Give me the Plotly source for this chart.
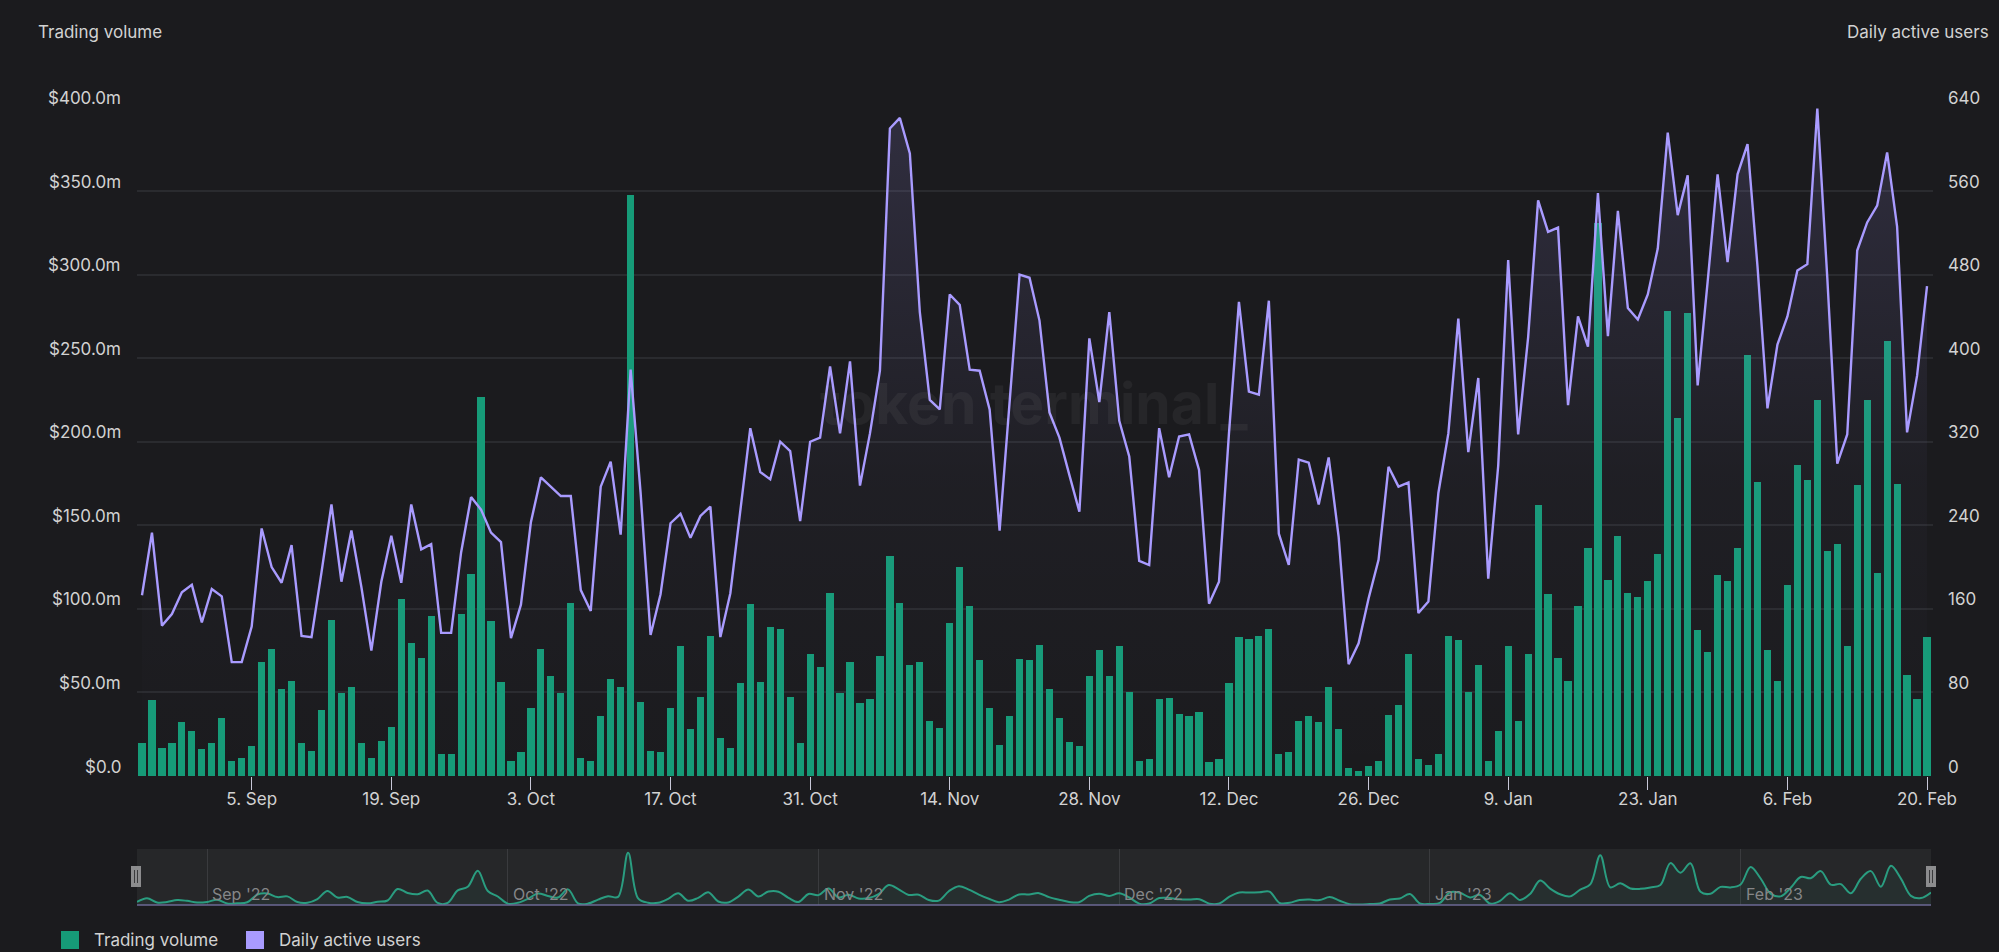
import pandas as pd
import plotly.graph_objects as go

W, H = 1999, 952
dates = pd.date_range("2022-08-25", "2023-02-20", freq="D")

trading_volume_m = [
    20.3,45.6,17,19.8,32.7,27.5,16.5,20.3,35.2,9.3,
    11.3,18.1,68.7,76.4,52.5,57.4,19.8,15.4,39.6,93.4,
    49.7,53.3,19.8,11.3,21.4,29.9,106.3,79.9,71.1,96.1,
    13.5,13.5,97,120.9,226.9,92.8,56.6,9.3,14.6,41.2,
    76.4,60.2,49.7,103.8,11.3,9.3,36,58.5,53.8,347.8,
    44.5,15.4,14.6,41.2,78,28.3,47.8,84.1,23.1,17,
    55.8,103,56.6,89.3,88.5,47.8,19.8,73.1,65.4,109.6,
    49.7,68.7,43.7,46.1,72,132.1,103.8,67,68.7,33.5,
    29.1,91.7,125.3,102.2,69.5,41.2,19,36,70.3,69.5,
    78.8,52.2,35.2,20.6,18.1,60.2,75.5,60.2,78,50.5,
    9.3,10.2,46.1,47,37.6,36,38.5,8.5,10.2,55.8,
    83.2,82.4,84.1,88.5,13.5,14.6,33.2,36,32.7,53.3,
    28.3,5.2,3.3,6,9.3,36.8,42.9,73.1,10.2,6.9,
    13.5,84.1,81.6,50.5,67,9.3,27.5,78,33.5,73.6,
    162.3,109.1,71.1,57.4,102.2,136.5,331.3,117.6,144.2,109.9,
    107.4,116.7,133.2,278.3,214.5,277.4,87.6,74.7,120.3,116.7,
    136.5,252.4,176.1,75.5,57.4,114.3,186.2,177.7,225,134.9,
    139,78,174.4,225,122,260.4,175.3,60.7,46.1,83.5,
]
daily_active_users = [
    173,233,144,155,176,183,147,179,172,109,
    109,143,237,200,185,221,134,133,195,260,
    186,235,181,120,186,230,185,260,217,222,
    137,137,214,267,255,233,224,132,164,243,
    286,277,268,268,178,158,277,301,231,389,
    271,135,174,242,251,228,249,258,133,175,
    255,333,291,284,320,311,244,320,324,392,
    328,397,278,328,388,620,630,596,444,360,
    351,461,451,389,388,351,235,360,480,477,
    436,348,324,288,253,419,358,444,340,306,
    206,202,333,286,325,327,293,165,186,328,
    454,368,365,455,232,202,303,300,260,305,
    229,107,127,170,207,296,277,281,156,167,
    271,328,438,310,381,189,297,494,327,420,
    551,521,525,355,440,411,558,421,541,448,
    437,461,505,616,537,575,374,473,576,492,
    576,605,488,352,413,440,484,490,639,477,
    299,327,503,530,546,597,526,329,383,469,
]
x_tick_dates = ["2022-09-05","2022-09-19","2022-10-03","2022-10-17","2022-10-31","2022-11-14",
                "2022-11-28","2022-12-12","2022-12-26","2023-01-09","2023-01-23","2023-02-06","2023-02-20"]
x_tick_labels = ["5. Sep","19. Sep","3. Oct","17. Oct","31. Oct","14. Nov","28. Nov",
                 "12. Dec","26. Dec","9. Jan","23. Jan","6. Feb","20. Feb"]
left_ticks = [0,50,100,150,200,250,300,350,400]
left_labels = ["$0.0","$50.0m","$100.0m","$150.0m","$200.0m","$250.0m","$300.0m","$350.0m","$400.0m"]
right_ticks = [0,80,160,240,320,400,480,560,640]
month_dates = ["2022-09-01","2022-10-01","2022-11-01","2022-12-01","2023-01-01","2023-02-01"]
month_labels = ["Sep '22","Oct '22","Nov '22","Dec '22","Jan '23","Feb '23"]

BG = "#1b1b1e"; GREEN = "#169b78"; PURPLE = "#a99bff"; TXT = "#d2d2d2"; GRID = "#2a2b2f"
FONT = "Inter"
px = lambda v: v / W
py = lambda v: 1 - v / H

fig = go.Figure()
fig.add_trace(go.Bar(x=dates, y=trading_volume_m, marker=dict(color=GREEN, line_width=0),
                     width=7.2 * 86400000 / 9.97, xaxis="x", yaxis="y", showlegend=False))
fig.add_trace(go.Scatter(x=dates, y=daily_active_users, mode="lines", line=dict(color=PURPLE, width=2.4),
                         fill="tozeroy",
                         fillgradient=dict(type="vertical",
                                           colorscale=[[0, "rgba(169,155,255,0.0)"],
                                                       [0.45, "rgba(169,155,255,0.03)"],
                                                       [1, "rgba(169,155,255,0.15)"]]),
                         xaxis="x", yaxis="y2", showlegend=False))
fig.add_trace(go.Scatter(x=dates, y=trading_volume_m, mode="lines",
                         line=dict(color="#2a9d80", width=2, shape="spline", smoothing=1.0),
                         fill="tozeroy", fillcolor="rgba(42,157,128,0.07)",
                         xaxis="x2", yaxis="y3", showlegend=False))

ann = []
shapes = []
for v, t in zip(left_ticks, left_labels):
    ann.append(dict(text=t, x=px(122.5), xref="paper", y=v, yref="y", xanchor="right", yanchor="middle",
                    yshift=9.5, showarrow=False, font=dict(size=17, color=TXT, family=FONT)))
for v in right_ticks:
    ann.append(dict(text=str(v), x=px(1946), xref="paper", y=v, yref="y2", xanchor="left", yanchor="middle",
                    yshift=9.5, showarrow=False, font=dict(size=17, color=TXT, family=FONT)))
for d, t in zip(month_dates, month_labels):
    ann.append(dict(text=t, x=d, xref="x2", xshift=3, y=py(894), yref="paper", xanchor="left", yanchor="middle",
                    showarrow=False, font=dict(size=16, color="#858688", family=FONT)))

def label(text, x, y, anchor="left", size=17, color=TXT, **kw):
    ann.append(dict(text=text, x=px(x), y=py(y), xref="paper", yref="paper", xanchor=anchor, yanchor="middle",
                    showarrow=False, font=dict(size=size, color=color, family=FONT), **kw))

label("Trading volume", 36, 32)
label("Daily active users", 1991, 32, anchor="right")
label("Trading volume", 92, 940)
label("Daily active users", 277, 940)
label("<b>token terminal_</b>", 1034, 403, anchor="center", size=57, color="rgba(255,255,255,0.05)")

def rect(x0, y0, x1, y1, fill, layer="above", line=None):
    shapes.append(dict(type="rect", xref="paper", yref="paper", x0=px(x0), x1=px(x1), y0=py(y0), y1=py(y1),
                       fillcolor=fill, line=dict(width=1 if line else 0, color=line or fill), layer=layer))

rect(137, 849, 1931, 905, "#262729", layer="below")
rect(61, 931, 79, 949, GREEN)
rect(246, 931, 264, 949, PURPLE)
shapes.append(dict(type="line", xref="paper", yref="paper", x0=px(137), x1=px(1931), y0=py(905), y1=py(905),
                   line=dict(color="#6d6a96", width=1.5)))
for hx in (131, 1926):
    rect(hx, 866, hx + 10, 887, "#8c8c8e")
    for o in (3.5, 6.5):
        shapes.append(dict(type="line", xref="paper", yref="paper", x0=px(hx + o), x1=px(hx + o),
                           y0=py(870), y1=py(883), line=dict(color="#3a3a3c", width=1)))

fig.update_layout(
    width=W, height=H, paper_bgcolor=BG, plot_bgcolor="rgba(0,0,0,0)",
    margin=dict(l=0, r=0, t=0, b=0, pad=0, autoexpand=False), showlegend=False, bargap=0,
    font=dict(family=FONT, color=TXT, size=17),
    annotations=ann, shapes=shapes,
    xaxis=dict(domain=[px(137), px(1933)], anchor="y", type="date",
               range=["2022-08-24 12:00", "2023-02-20 14:24"],
               tickmode="array", tickvals=x_tick_dates, ticktext=x_tick_labels,
               ticks="outside", ticklen=13, tickwidth=1, tickcolor="#c8c8d8", ticklabelstandoff=-5,
               tickfont=dict(size=17, color=TXT, family=FONT),
               showgrid=False, showline=False, zeroline=False),
    yaxis=dict(domain=[py(776), py(107.5)], range=[0, 400], tickmode="array", tickvals=left_ticks,
               showticklabels=False, ticks="", gridcolor=GRID, gridwidth=1.5, zeroline=False, showline=False),
    yaxis2=dict(domain=[py(776), py(107.5)], anchor="x", overlaying="y", side="right", range=[0, 640],
                tickmode="array", tickvals=right_ticks, showticklabels=False, ticks="",
                showgrid=False, zeroline=False, showline=False),
    xaxis2=dict(domain=[px(137), px(1931)], anchor="y3", type="date", range=["2022-08-25", "2023-02-20"],
                tickmode="array", tickvals=month_dates, showticklabels=False, ticks="",
                showgrid=True, gridcolor="#3a3b3e", gridwidth=1, zeroline=False, showline=False),
    yaxis3=dict(domain=[py(905), py(849)], anchor="x2", range=[0, 372], showticklabels=False, ticks="",
                showgrid=False, zeroline=False, showline=False),
)

fig.write_html("out.html", config={"displayModeBar": False},
               post_script="document.body.style.margin='0';document.body.style.background='#1b1b1e';")
